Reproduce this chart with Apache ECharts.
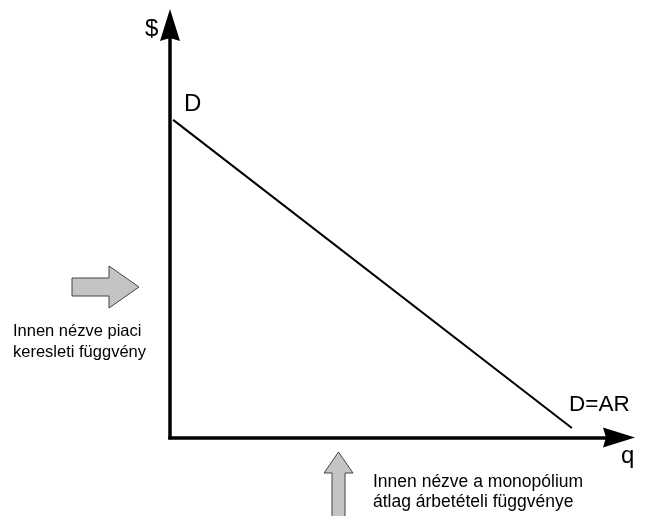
<!DOCTYPE html>
<html>
<head>
<meta charset="utf-8">
<script src="https://cdn.jsdelivr.net/npm/echarts@6/dist/echarts.min.js"></script>
<style>
  html, body { margin: 0; padding: 0; background: #fff; }
  #chart { width: 647px; height: 516px; }
</style>
</head>
<body>
<div id="chart"></div>
<script>
// demand curve D = AR, endpoints on a 0..100 scale
var demandQ = [0.7, 89.5];
var demandP = [77, 2.3];
var axisNames = ['$', 'q'];
var curveLabels = ['D', 'D=AR'];
var noteLeft = ['Innen nézve piaci', 'keresleti függvény'];
var noteBottom = ['Innen nézve a monopólium', 'átlag árbetételi függvénye'];

var FONT = 'Liberation Sans, Arial, sans-serif';
var chart = echarts.init(document.getElementById('chart'));

var arrowPath = 'path://M10,0 L20,32 L10,29 L0,32 Z';
function axisLine() {
    return {
        show: true,
        symbol: ['none', arrowPath],
        symbolSize: [21, 32],
        lineStyle: { color: '#000', width: 3.5, cap: 'square' }
    };
}

function txt(t, x, y, size) {
    return {
        type: 'text',
        style: { text: t, x: x, y: y, font: size + 'px ' + FONT, fill: '#000', verticalAlign: 'middle' }
    };
}

var lineData = demandQ.map(function (q, i) { return [q, demandP[i]]; });

chart.setOption({
    animation: false,
    backgroundColor: '#fff',
    grid: { left: 170, right: 28, top: 25, bottom: 78.5 },
    xAxis: {
        type: 'value', min: 0, max: 100,
        axisLine: axisLine(),
        axisTick: { show: false }, axisLabel: { show: false }, splitLine: { show: false }
    },
    yAxis: {
        type: 'value', min: 0, max: 100,
        axisLine: axisLine(),
        axisTick: { show: false }, axisLabel: { show: false }, splitLine: { show: false }
    },
    series: [{
        type: 'line',
        data: lineData,
        symbol: 'none',
        lineStyle: { color: '#000', width: 2 }
    }],
    graphic: [
        txt(axisNames[0], 145, 29, 24),
        txt(axisNames[1], 621, 456, 24),
        txt(curveLabels[0], 184, 104, 24),
        txt(curveLabels[1], 569, 404.5, 22.5),
        txt(noteLeft[0], 13, 331, 16.5),
        txt(noteLeft[1], 13, 352, 16.5),
        txt(noteBottom[0], 373, 482, 17.5),
        txt(noteBottom[1], 373, 502, 17.5),
        {
            type: 'polygon',
            shape: { points: [[72, 278], [109, 278], [109, 266], [139, 287], [109, 308], [109, 296], [72, 296]] },
            style: { fill: '#c4c4c4', stroke: '#444', lineWidth: 1 }
        },
        {
            type: 'polygon',
            shape: { points: [[338.5, 452], [353, 473], [345, 473], [345, 520], [332, 520], [332, 473], [324, 473]] },
            style: { fill: '#c4c4c4', stroke: '#444', lineWidth: 1 }
        }
    ]
});
</script>
</body>
</html>
